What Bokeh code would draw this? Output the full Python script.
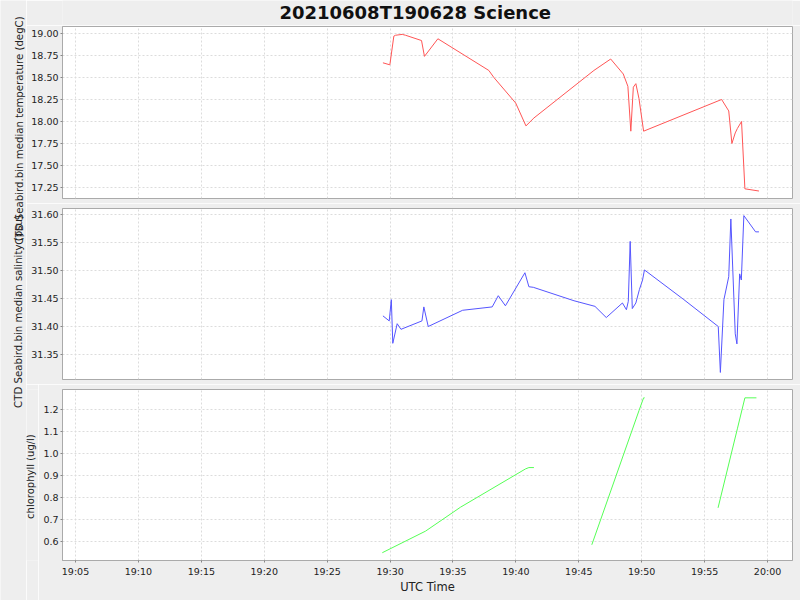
import numpy as np
import pandas as pd
from bokeh.plotting import figure
from bokeh.layouts import column, row
from bokeh.models import Range1d, FixedTicker, DatetimeTickFormatter, PrintfTickFormatter
from bokeh.embed import file_html
from bokeh.resources import INLINE
from bokeh.core.properties import value

DAY = "2021-06-08 "
TITLE = "20210608T190628 Science"
X_LABEL = "UTC Time"
TEMP_LABEL = "CTD Seabird.bin median temperature (degC)"
SAL_LABEL = "CTD Seabird.bin median salinity (psu)"
CHL_LABEL = "chlorophyll (ug/l)"

x_ticks = ["19:05", "19:10", "19:15", "19:20", "19:25", "19:30",
           "19:35", "19:40", "19:45", "19:50", "19:55", "20:00"]
temp_ticks = [17.25, 17.50, 17.75, 18.00, 18.25, 18.50, 18.75, 19.00]
sal_ticks = [31.35, 31.40, 31.45, 31.50, 31.55, 31.60]
chl_ticks = [0.6, 0.7, 0.8, 0.9, 1.0, 1.1, 1.2]

temp_time = ["19:29:26", "19:29:59", "19:30:18", "19:30:26", "19:30:58", "19:31:14",
             "19:32:30", "19:32:44", "19:33:48", "19:37:51", "19:38:15", "19:39:59",
             "19:40:48", "19:41:26", "19:46:12", "19:47:32", "19:48:32", "19:48:54",
             "19:49:08", "19:49:20", "19:49:32", "19:49:47", "19:50:09", "19:56:21",
             "19:56:55", "19:57:10", "19:57:26", "19:57:36", "19:57:56", "19:58:12",
             "19:59:19"]
temp_val = [18.667, 18.644, 18.97, 18.98, 18.99, 18.98,
            18.92, 18.74, 18.94, 18.58, 18.50, 18.21,
            17.95, 18.04, 18.58, 18.71, 18.54, 18.40,
            17.89, 18.39, 18.43, 18.26, 17.89, 18.25,
            18.12, 17.75, 17.87, 17.92, 18.00, 17.235,
            17.21]

sal_time = ["19:29:26", "19:29:56", "19:30:06", "19:30:13", "19:30:34", "19:30:52",
            "19:32:32", "19:32:41", "19:33:02", "19:35:46", "19:38:07", "19:38:36",
            "19:39:10", "19:40:43", "19:41:02", "19:41:23", "19:44:37", "19:46:17",
            "19:47:11", "19:48:28", "19:48:47", "19:48:56", "19:49:05", "19:49:15",
            "19:49:32", "19:49:49", "19:50:04", "19:50:13", "19:53:21", "19:56:05",
            "19:56:15", "19:56:32", "19:56:55", "19:57:05", "19:57:26", "19:57:34",
            "19:57:47", "19:57:55", "19:58:07", "19:59:03", "19:59:19"]
sal_val = [31.419, 31.410, 31.448, 31.370, 31.405, 31.395,
           31.410, 31.435, 31.400, 31.429, 31.435, 31.455,
           31.437, 31.496, 31.471, 31.470, 31.446, 31.436,
           31.416, 31.442, 31.430, 31.445, 31.552, 31.432,
           31.442, 31.466, 31.483, 31.501, 31.448, 31.400,
           31.318, 31.448, 31.489, 31.592, 31.387, 31.369,
           31.494, 31.483, 31.598, 31.569, 31.569]

chl_time_1 = ["19:29:23", "19:32:49", "19:35:36", "19:40:46", "19:41:02", "19:41:26"]
chl_val_1 = [0.549, 0.647, 0.756, 0.930, 0.936, 0.936]
chl_time_2 = ["19:46:02", "19:49:47", "19:50:09", "19:50:14"]
chl_val_2 = [0.585, 1.195, 1.253, 1.253]
chl_time_3 = ["19:56:04", "19:57:36", "19:58:12", "19:59:07"]
chl_val_3 = [0.753, 1.112, 1.253, 1.253]


def ts(lst):
    return pd.to_datetime([DAY + s for s in lst])


FONT = "DejaVu Sans"
BG = "#eeeeee"
GRID = "#dcdcdc"
FRAME = "#aaaaaa"
TXT = "#222222"

x_range = Range1d(start=pd.Timestamp(DAY + "19:03:58"), end=pd.Timestamp(DAY + "20:01:59"))
x_tick_ms = [pd.Timestamp(DAY + t).value / 1e6 for t in x_ticks]

SW = 26          # left label strip width
SW2 = 12         # strip for the chlorophyll label
W = 800 - SW     # panel width
H_TOTAL = 600


def blank(width, height):
    f = figure(width=width, height=height, x_range=Range1d(0, width),
               y_range=Range1d(height, 0), output_backend="svg", toolbar_location=None,
               min_border=0, x_axis_location=None, y_axis_location=None)
    f.grid.visible = False
    f.outline_line_color = None
    f.background_fill_color = BG
    f.border_fill_color = BG
    return f


def panel(width, height, yr, yticks, fmt, left, top, bottom, with_x):
    p = figure(width=width, height=height, x_axis_type="datetime", x_range=x_range,
               y_range=Range1d(*yr), output_backend="svg", toolbar_location=None,
               x_axis_location="below" if with_x else None,
               min_border_left=left, min_border_right=8,
               min_border_top=top, min_border_bottom=bottom)
    p.background_fill_color = "white"
    p.border_fill_color = BG
    p.outline_line_color = FRAME
    p.outline_line_width = 1
    p.xgrid.ticker = FixedTicker(ticks=x_tick_ms)
    p.ygrid.ticker = FixedTicker(ticks=yticks)
    for g in (p.xgrid, p.ygrid):
        g.grid_line_color = GRID
        g.grid_line_dash = "2 2"
        g.grid_line_width = 1
    ax = p.yaxis[0]
    ax.ticker = FixedTicker(ticks=yticks)
    ax.formatter = PrintfTickFormatter(format=fmt)
    ax.major_tick_out = 2
    ax.major_tick_in = 0
    ax.minor_tick_out = 0
    ax.minor_tick_in = 0
    ax.major_label_standoff = 2
    ax.axis_line_color = FRAME
    ax.major_tick_line_color = "#888888"
    ax.major_label_text_font = FONT
    ax.major_label_text_font_size = "9.5px"
    ax.major_label_text_color = TXT
    if with_x:
        xa = p.xaxis[0]
        xa.ticker = FixedTicker(ticks=x_tick_ms)
        xa.formatter = DatetimeTickFormatter(minutes="%H:%M", hourmin="%H:%M",
                                             hours="%H:%M", minsec="%H:%M")
        xa.major_tick_out = 2
        xa.major_tick_in = 0
        xa.minor_tick_out = 0
        xa.minor_tick_in = 0
        xa.major_label_standoff = 3
        xa.axis_line_color = FRAME
        xa.major_tick_line_color = "#888888"
        xa.major_label_text_font = FONT
        xa.major_label_text_font_size = "9.5px"
        xa.major_label_text_color = TXT
        xa.axis_label = X_LABEL
        xa.axis_label_text_font = FONT
        xa.axis_label_text_font_size = "11.5px"
        xa.axis_label_text_font_style = "normal"
        xa.axis_label_text_color = TXT
        xa.axis_label_standoff = 0
    return p


# canvases: title 0-25, p1 25-203, p2 203-384, p3 384-600
p1 = panel(W, 178, (17.125, 19.0795), temp_ticks, "%.2f", 36, 1, 5, False)
p1.line(ts(temp_time), temp_val, line_color="#ff5555", line_width=1)

p2 = panel(W, 181, (31.3054, 31.6107), sal_ticks, "%.2f", 36, 5, 5, False)
p2.line(ts(sal_time), sal_val, line_color="#5555ff", line_width=1)

P3H = 216
p3 = panel(W - SW2, P3H, (0.5136, 1.2909), chl_ticks, "%.1f", 36 - SW2, 5, 40, True)
p3.multi_line([list(ts(chl_time_1)), list(ts(chl_time_2)), list(ts(chl_time_3))],
              [chl_val_1, chl_val_2, chl_val_3], line_color="#55ff55", line_width=1)

# chlorophyll label strip (left of bottom panel)
cfig = blank(SW2, P3H)
cfig.text(x=[4], y=[110], text=[CHL_LABEL], angle=np.pi / 2,
          text_align="center", text_baseline="middle",
          text_font=value(FONT), text_font_size="10px", text_color=TXT)

# title strip
TH = 25
tfig = blank(W, TH)
tfig.text(x=[400 - SW], y=[11.5], text=[TITLE], text_align="center", text_baseline="middle",
          text_font=value(FONT), text_font_style="bold", text_font_size="18px",
          text_color="#111111")

# left label strip
sfig = blank(SW, H_TOTAL)
sfig.text(x=[19, 18], y=[130, 311], text=[TEMP_LABEL, SAL_LABEL], angle=np.pi / 2,
          text_align="center", text_baseline="middle",
          text_font=value(FONT), text_font_size="10.2px", text_color=TXT)

layout = row(sfig,
             column(tfig, p1, p2, row(cfig, p3, spacing=0), spacing=0),
             spacing=0)

open("out.html", "w").write(file_html(layout, INLINE))
